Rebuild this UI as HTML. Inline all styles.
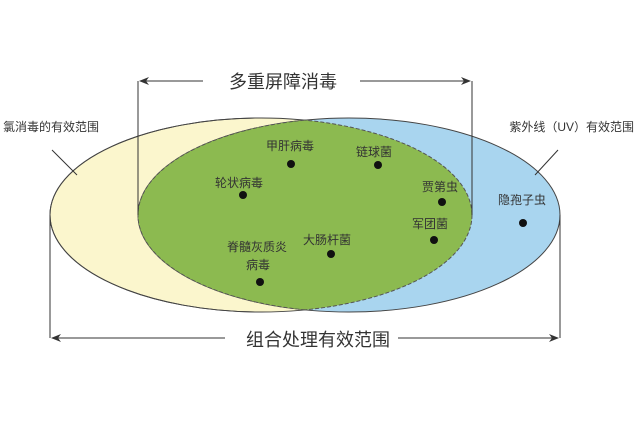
<!DOCTYPE html>
<html><head><meta charset="utf-8"><style>
html,body{margin:0;padding:0;background:#fff;width:636px;height:421px;overflow:hidden}
text{font-family:"Liberation Sans","Noto Sans CJK SC",sans-serif;fill:#333}
</style></head><body>
<svg width="636" height="421" viewBox="0 0 636 421" xmlns="http://www.w3.org/2000/svg">
<defs>
<clipPath id="cy"><ellipse cx="261" cy="215" rx="211" ry="97"/></clipPath>
<clipPath id="cb"><ellipse cx="349" cy="215" rx="211" ry="97"/></clipPath>
<marker id="ar" markerWidth="10" markerHeight="8" refX="9" refY="4" orient="auto" markerUnits="userSpaceOnUse"><path d="M0,0 L10,4 L0,8 L3,4 Z" fill="#333"/></marker>
</defs>
<ellipse cx="261" cy="215" rx="211" ry="97" fill="#fbf6cd" stroke="#444" stroke-width="1"/>
<ellipse cx="349" cy="215" rx="211" ry="97" fill="#a9d5ef" stroke="#444" stroke-width="1"/>
<path d="M50,215 A211,97 0 0 1 261,118" fill="none" stroke="#444" stroke-width="1"/>
<path d="M50,215 A211,97 0 0 0 261,312" fill="none" stroke="#444" stroke-width="1"/>
<ellipse cx="349" cy="215" rx="211" ry="97" fill="#8cba50" clip-path="url(#cy)"/>
<ellipse cx="349" cy="215" rx="211" ry="97" fill="none" stroke="#555" stroke-dasharray="4,2" clip-path="url(#cy)"/>
<ellipse cx="261" cy="215" rx="211" ry="97" fill="none" stroke="#555" stroke-dasharray="4,2" clip-path="url(#cb)"/>
<g stroke="#333" stroke-width="1" fill="none">
<path d="M138,215 V81"/><path d="M472,215 V81"/>
<path d="M203,81 H140" marker-end="url(#ar)"/>
<path d="M360,81 H470" marker-end="url(#ar)"/>
<path d="M50,215 V338"/><path d="M560,215 V338"/>
<path d="M225,338 H52" marker-end="url(#ar)"/>
<path d="M398,338 H558" marker-end="url(#ar)"/>
<path d="M52,150 L77,175"/><path d="M558,150 L535,175"/>
</g>
<text x="283" y="88" font-size="18" text-anchor="middle">多重屏障消毒</text>
<text x="318" y="346" font-size="18" text-anchor="middle">组合处理有效范围</text>
<text x="3" y="131" font-size="12">氯消毒的有效范围</text>
<text x="634" y="131" font-size="12" text-anchor="end">紫外线（UV）有效范围</text>
<g font-size="12" text-anchor="middle">
<text x="290" y="150">甲肝病毒</text>
<text x="374" y="156">链球菌</text>
<text x="239" y="187">轮状病毒</text>
<text x="440" y="191">贾第虫</text>
<text x="522" y="204">隐孢子虫</text>
<text x="430" y="228">军团菌</text>
<text x="327" y="244">大肠杆菌</text>
<text x="257" y="251">脊髓灰质炎</text>
<text x="258" y="269">病毒</text>
</g>
<g fill="#111">
<circle cx="291" cy="164" r="4"/><circle cx="378" cy="165" r="4"/>
<circle cx="243" cy="195" r="4"/><circle cx="442" cy="202" r="4"/>
<circle cx="523" cy="223" r="4"/><circle cx="434" cy="240" r="4"/>
<circle cx="331" cy="254" r="4"/><circle cx="260" cy="282" r="4"/>
</g>
</svg>
</body></html>
